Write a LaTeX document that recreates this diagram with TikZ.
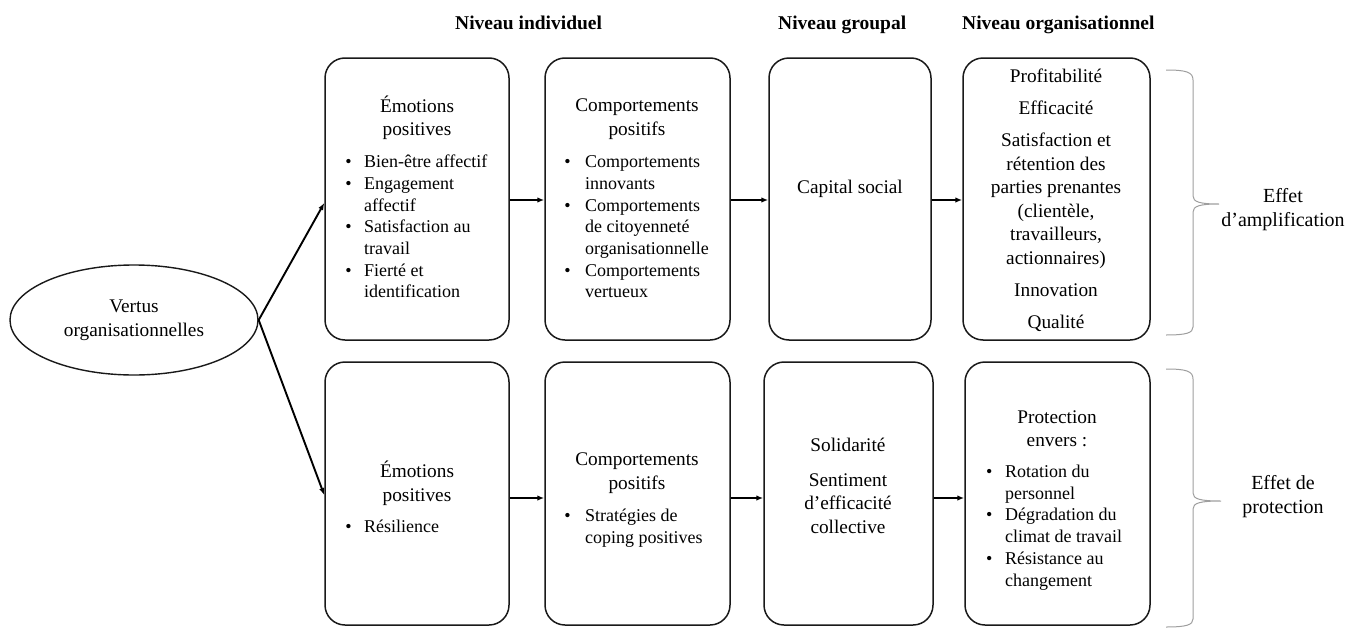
\documentclass[tikz,border=0pt]{standalone}
\usepackage{fontspec}
\setmainfont{Liberation Serif}
\usetikzlibrary{shapes.geometric,arrows.meta}
\newcommand\mybul[1]{\makebox[#1][l]{•}}
\newcommand\ttlfont{\fontsize{19.3}{23.5}\selectfont}
\newcommand\lstfont{\fontsize{18}{21.7}\selectfont}
\newcommand\hdrfont{\fontsize{19.5}{23}\selectfont\bfseries}
\newcommand\lblfont{\fontsize{20}{23.5}\selectfont}
\begin{document}
\begin{tikzpicture}[x=1pt,y=-1pt,
  box/.style={draw=black!90,line width=1.5pt,rounded corners=20pt,inner sep=0pt},
  txt/.style={inner sep=0pt,font=\ttlfont},
  lst/.style={inner sep=0pt,font=\lstfont,anchor=west},
  hdr/.style={inner sep=0pt,font=\hdrfont,anchor=base west},
  lbl/.style={inner sep=0pt,font=\lblfont},
  arr/.style={line width=1.9pt,-{Latex[length=7pt,width=5.5pt]}},
  brace/.style={draw=black!38,line width=1pt}]
\useasboundingbox (0,0) rectangle (1354,629);

% headers
\node[hdr] (h1) at (455,29) {Niveau individuel};
\node[hdr] (h2) at (778,29) {Niveau groupal};
\node[hdr] (h3) at (962,29) {Niveau organisationnel};

% ellipse
\node[ellipse,draw=black!90,line width=1.4pt,minimum width=248pt,minimum height=110pt,inner sep=0pt,font=\ttlfont] (ell) at (134,320)
  {\begin{tabular}{@{}c@{}}Vertus\\organisationnelles\end{tabular}};

% top row boxes
\node[box,minimum width=184pt,minimum height=282pt] (t1) at (417,199) {};
\node[box,minimum width=185pt,minimum height=282pt] (t2) at (637.5,199) {};
\node[box,minimum width=162pt,minimum height=282pt] (t3) at (850,199) {};
\node[box,minimum width=187pt,minimum height=282pt] (t4) at (1056.5,199) {};

% bottom row boxes
\node[box,minimum width=184pt,minimum height=263pt] (b1) at (417,493.5) {};
\node[box,minimum width=185pt,minimum height=263pt] (b2) at (637.5,493.5) {};
\node[box,minimum width=169pt,minimum height=263pt] (b3) at (848.5,493.5) {};
\node[box,minimum width=185pt,minimum height=263pt] (b4) at (1057.5,493.5) {};

% top row texts
\node[txt] (t1h) at (417,119) {\begin{tabular}{@{}c@{}}Émotions\\positives\end{tabular}};
\node[lst] (t1l) at (345.2,228.5) {\begin{tabular}{@{}l@{}l@{}}
\mybul{18.8pt}&Bien-être affectif\\
\mybul{18.8pt}&Engagement\\
&affectif\\
\mybul{18.8pt}&Satisfaction au\\
&travail\\
\mybul{18.8pt}&Fierté et\\
&identification\end{tabular}};

\node[txt] (t2h) at (637,119) {\begin{tabular}{@{}c@{}}Comportements\\positifs\end{tabular}};
\node[lst] (t2l) at (564.2,228.5) {\begin{tabular}{@{}l@{}l@{}}
\mybul{20.8pt}&Comportements\\
&innovants\\
\mybul{20.8pt}&Comportements\\
&de citoyenneté\\
&organisationnelle\\
\mybul{20.8pt}&Comportements\\
&vertueux\end{tabular}};

\node[txt] (t3t) at (850,189) {Capital social};

\node[txt] (t4t) at (1056,201) {\begin{tabular}{@{}c@{}}
Profitabilité\\[8.75pt]
Efficacité\\[8.75pt]
Satisfaction et\\
rétention des\\
parties prenantes\\
(clientèle,\\
travailleurs,\\
actionnaires)\\[8.75pt]
Innovation\\[8.75pt]
Qualité\end{tabular}};

% bottom row texts
\node[txt] (b1h) at (417,484.5) {\begin{tabular}{@{}c@{}}Émotions\\positives\end{tabular}};
\node[lst] (b1l) at (345.2,528) {\begin{tabular}{@{}l@{}l@{}}\mybul{18.8pt}&Résilience\end{tabular}};

\node[txt] (b2h) at (637,473) {\begin{tabular}{@{}c@{}}Comportements\\positifs\end{tabular}};
\node[lst] (b2l) at (564.2,528) {\begin{tabular}{@{}l@{}l@{}}
\mybul{20.8pt}&Stratégies de\\
&coping positives\end{tabular}};

\node[txt] (b3t) at (848,488) {\begin{tabular}{@{}c@{}}Solidarité\\[11pt]Sentiment\\d’efficacité\\collective\end{tabular}};

\node[txt] (b4h) at (1057,430.5) {\begin{tabular}{@{}c@{}}Protection\\envers :\end{tabular}};
\node[lst] (b4l) at (985.9,527.5) {\begin{tabular}{@{}l@{}l@{}}
\mybul{19.1pt}&Rotation du\\
&personnel\\
\mybul{19.1pt}&Dégradation du\\
&climat de travail\\
\mybul{19.1pt}&Résistance au\\
&changement\end{tabular}};

% connectors
\draw[arr] (ell.east) -- ([yshift=-4pt]t1.west);
\draw[arr] (ell.east) -- ([yshift=-1.5pt]b1.west);
\draw[arr] ([yshift=-1pt]t1.east) -- ([yshift=-1pt]t2.west);
\draw[arr] ([yshift=-1pt]t2.east) -- ([yshift=-1pt]t3.west);
\draw[arr] ([yshift=-1pt]t3.east) -- ([yshift=-1pt]t4.west);
\draw[arr] ([yshift=-4.5pt]b1.east) -- ([yshift=-4.5pt]b2.west);
\draw[arr] ([yshift=-4.5pt]b2.east) -- ([yshift=-4.5pt]b3.west);
\draw[arr] ([yshift=-4.5pt]b3.east) -- ([yshift=-4.5pt]b4.west);

% braces
\draw[brace] (1166,70) .. controls (1186,70) and (1193,72) .. (1193,80) -- (1193,196)
  .. controls (1193,202) and (1200,204) .. (1219,204)
  .. controls (1200,204) and (1193,206) .. (1193,212) -- (1193,327)
  .. controls (1193,333) and (1186,335) .. (1166,335);
\draw[brace] (1166,369) .. controls (1186,369) and (1193,371) .. (1193,379) -- (1193,493)
  .. controls (1193,499) and (1200,501) .. (1221,501)
  .. controls (1200,501) and (1193,503) .. (1193,509) -- (1193,619)
  .. controls (1193,625) and (1186,627) .. (1166,627);

% side labels
\node[lbl] (la) at (1283,210) {\begin{tabular}{@{}c@{}}Effet\\d’amplification\end{tabular}};
\node[lbl] (lp) at (1283,497) {\begin{tabular}{@{}c@{}}Effet de\\protection\end{tabular}};
\end{tikzpicture}
\end{document}
